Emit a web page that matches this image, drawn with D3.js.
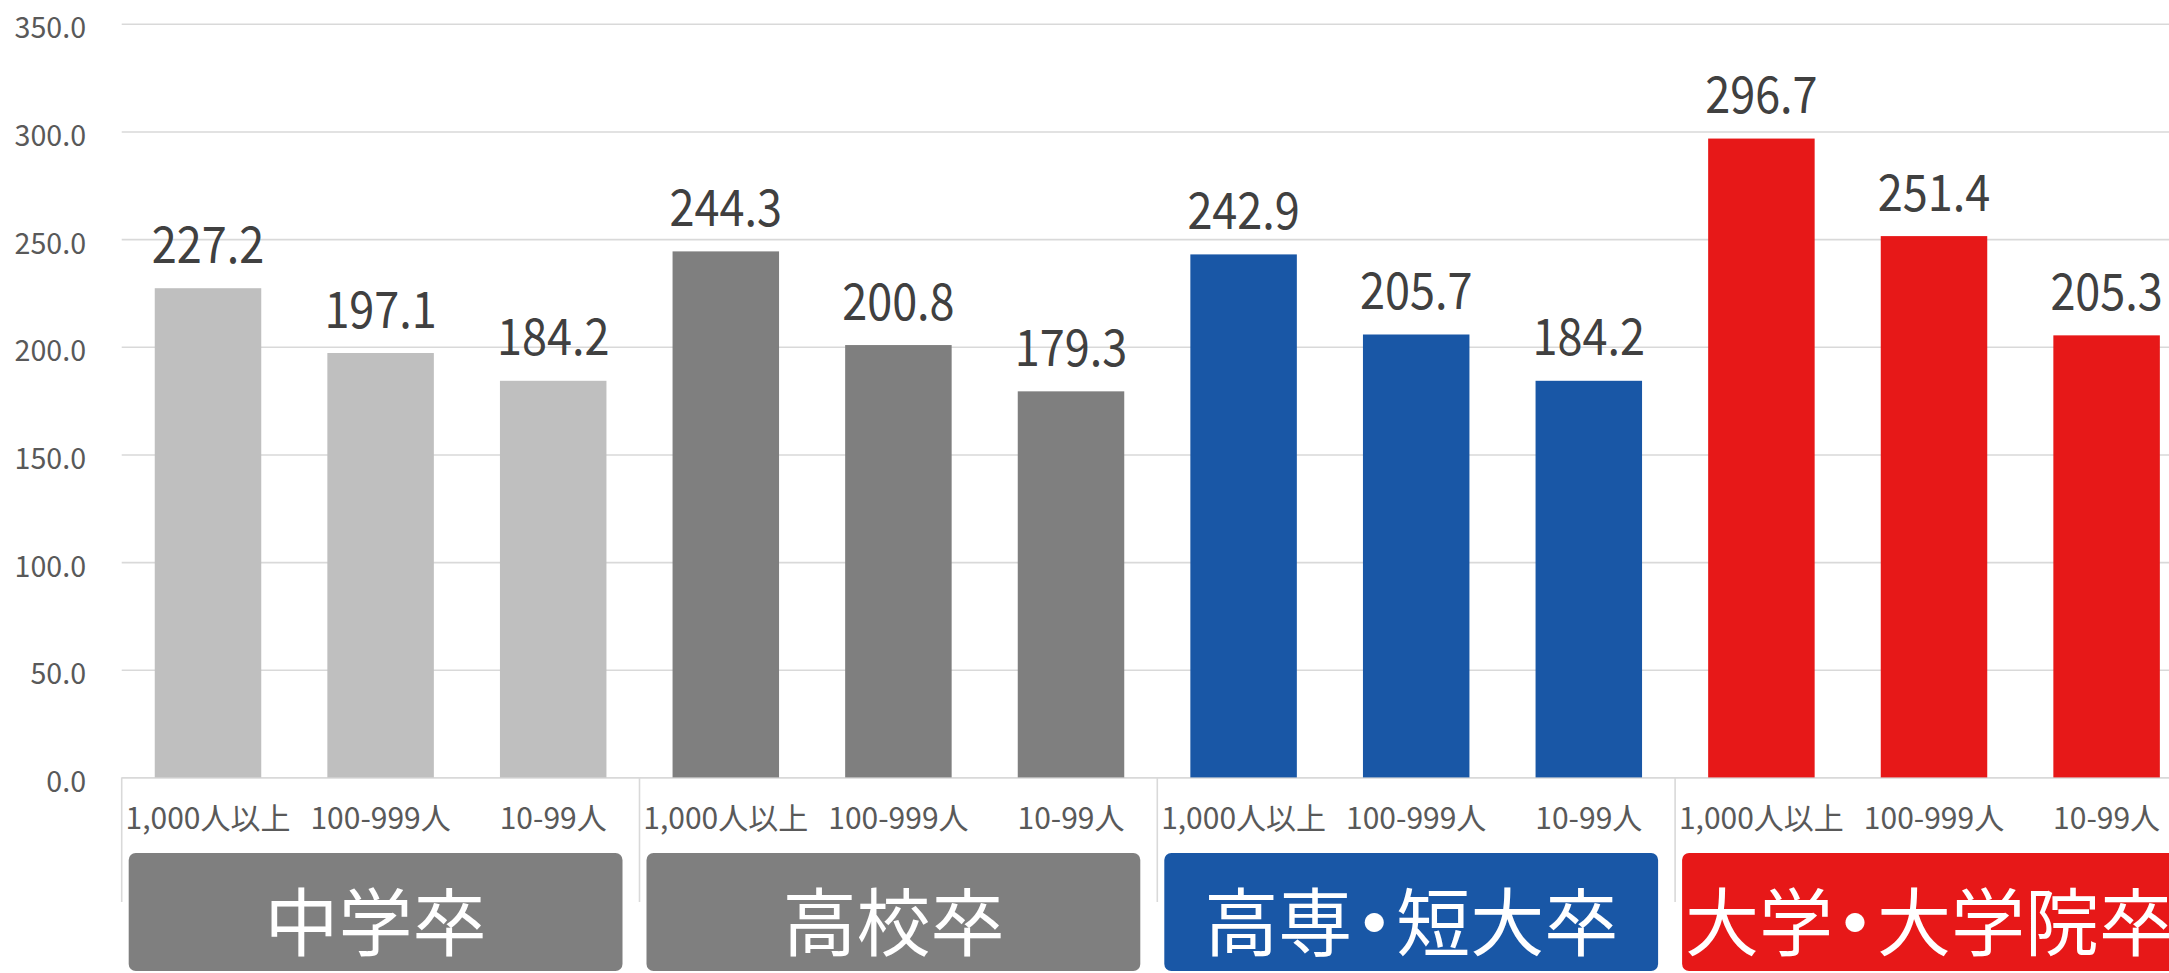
<!DOCTYPE html>
<html>
<head>
<meta charset="utf-8">
<script src="https://cdn.jsdelivr.net/npm/d3@7"></script>
<style>
  body { margin: 0; background: #fff; overflow: hidden; }
  text { font-family: "Noto Sans CJK JP", "Noto Sans", sans-serif; }
</style>
</head>
<body>
<div id="chart"></div>
<script>
// Data
const groups = ["中学卒", "高校卒", "高専・短大卒", "大学・大学院卒"];
const sizes = ["1,000人以上", "100-999人", "10-99人"];
const juniorHigh = [227.2, 197.1, 184.2];
const highSchool = [244.3, 200.8, 179.3];
const college = [242.9, 205.7, 184.2];
const university = [296.7, 251.4, 205.3];
const yTicks = [0, 50, 100, 150, 200, 250, 300, 350];

const barColors = ["#bfbfbf", "#7f7f7f", "#1957a6", "#e71818"];
const boxColors = ["#7f7f7f", "#7f7f7f", "#1957a6", "#e71818"];

// Flatten into one row per bar
const data = [];
[juniorHigh, highSchool, college, university].forEach((vals, g) => {
    vals.forEach((v, i) => data.push({ group: g, key: g + "|" + i, size: sizes[i], value: v }));
});

const width = 2169, height = 973;
const left = 121.7, step = 172.6, y0 = 777.4, yTop = 23.8;

const svg = d3.select("#chart")
    .append("svg")
    .attr("width", width)
    .attr("height", height);

// Scales
const x = d3.scaleBand()
    .domain(data.map(d => d.key))
    .range([left, left + step * data.length])
    .paddingInner(0.383)
    .paddingOuter(0.383 / 2);

const y = d3.scaleLinear()
    .domain([0, 350])
    .range([y0, yTop]);

// Gridlines + y labels
const yAxis = svg.append("g")
    .attr("transform", `translate(${left},0)`)
    .call(d3.axisLeft(y)
        .tickValues(yTicks)
        .tickSize(-(step * data.length))
        .tickPadding(35.7)
        .tickFormat(d3.format(".1f")));
yAxis.select(".domain").remove();
yAxis.selectAll(".tick line").attr("stroke", "#d9d9d9").attr("stroke-width", 1.6);
yAxis.selectAll(".tick text")
    .attr("dy", 14)
    .style("font-size", "28.6px")
    .style("fill", "#595959");

// Bars
svg.selectAll("rect.bar")
    .data(data)
    .enter()
    .append("rect")
    .attr("class", "bar")
    .attr("x", d => x(d.key))
    .attr("y", d => y(d.value))
    .attr("width", x.bandwidth())
    .attr("height", d => y0 - y(d.value))
    .attr("fill", d => barColors[d.group]);

// Value labels (narrowed a bit, the original font is condensed)
svg.selectAll("text.val")
    .data(data)
    .enter()
    .append("text")
    .attr("class", "val")
    .attr("x", d => x(d.key) + x.bandwidth() / 2)
    .attr("y", d => y(d.value) - 25.4)
    .style("text-anchor", "middle")
    .style("font-size", "50px")
    .style("fill", "#404040")
    .text(d => d3.format(".1f")(d.value))
    .each(function() {
        const w = this.getComputedTextLength();
        d3.select(this).attr("textLength", w * 0.9).attr("lengthAdjust", "spacingAndGlyphs");
    });

// Category labels
const xAxis = svg.append("g")
    .attr("transform", `translate(0,${y0})`)
    .call(d3.axisBottom(x)
        .tickSize(0)
        .tickPadding(30.3)
        .tickFormat(k => sizes[+k.split("|")[1]]));
xAxis.select(".domain").remove();
xAxis.selectAll(".tick text")
    .style("font-size", "30px")
    .style("fill", "#595959");

// Group separators and boxes
const groupStart = g => x(g + "|0") - (x.step() - x.bandwidth()) / 2;
const groupWidth = x.step() * sizes.length;

svg.selectAll("line.sep")
    .data(d3.range(groups.length + 1))
    .enter()
    .append("line")
    .attr("class", "sep")
    .attr("x1", g => left + g * groupWidth)
    .attr("x2", g => left + g * groupWidth)
    .attr("y1", y0)
    .attr("y2", 902)
    .attr("stroke", "#d9d9d9")
    .attr("stroke-width", 1.6);

svg.selectAll("rect.box")
    .data(groups)
    .enter()
    .append("rect")
    .attr("class", "box")
    .attr("x", (d, g) => groupStart(g) + 7)
    .attr("y", 853)
    .attr("width", groupWidth - 24)
    .attr("height", 118)
    .attr("rx", 7)
    .attr("fill", (d, g) => boxColors[g]);

// group names; the middle dot is drawn tighter, like in the original
const grpText = svg.selectAll("text.grp")
    .data(groups)
    .enter()
    .append("text")
    .attr("class", "grp")
    .attr("x", (d, g) => groupStart(g) + 7 + (groupWidth - 24) / 2)
    .attr("y", 950)
    .style("text-anchor", "middle")
    .style("font-size", "74px")
    .style("fill", "#fff");

grpText.each(function(d) {
    const t = d3.select(this);
    d.split(/(・)/).filter(s => s.length).forEach((part, i, arr) => {
        const sp = t.append("tspan").text(part);
        if (part === "・") sp.attr("dx", -15).style("font-weight", "bold");
        else if (i > 0 && arr[i - 1] === "・") sp.attr("dx", -15);
    });
});
</script>
</body>
</html>
